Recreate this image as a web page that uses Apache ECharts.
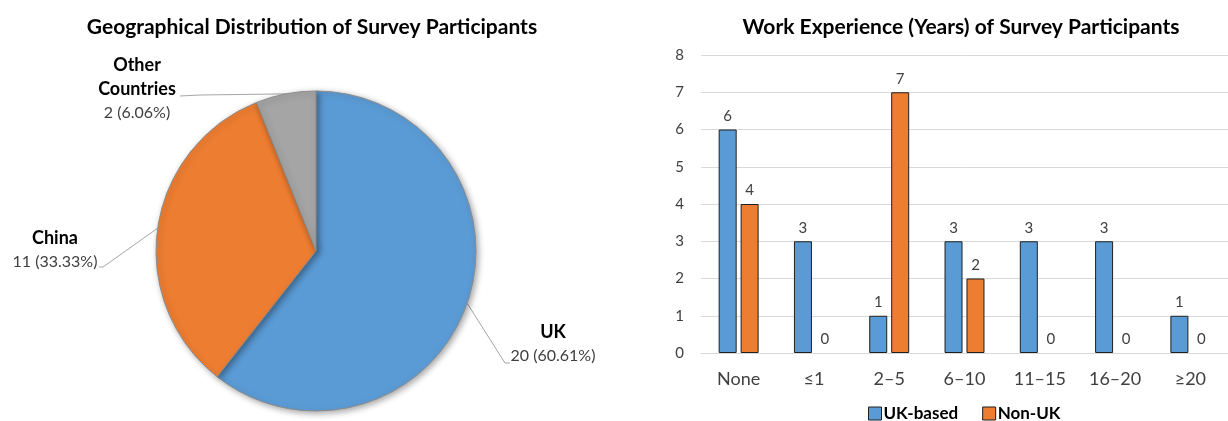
<!DOCTYPE html>
<html>
<head>
<meta charset="utf-8">
<script src="https://cdn.jsdelivr.net/npm/echarts@6/dist/echarts.min.js"></script>
<style>
html,body{margin:0;padding:0;background:#fff;}
#main{width:1228px;height:421px;}
</style>
</head>
<body>
<div id="main"></div>
<script>
// ---- Data ----
const pieNames = ['UK', 'China', 'Other\nCountries'];
const pieValues = [20, 11, 2];
const pieColors = ['#5B9BD5', '#ED7D31', '#A5A5A5'];

const expCategories = ['None', '≤1', '2–5', '6–10', '11–15', '16–20', '≥20'];
const ukBased = [6, 3, 1, 3, 3, 3, 1];
const nonUK = [4, 0, 7, 2, 0, 0, 0];
const yTicks = [0, 1, 2, 3, 4, 5, 6, 7, 8];

const FONT = 'Lato, "Open Sans", sans-serif';
const TXT = '#404040';

// label placement (layout only)
const pieLabelPlaces = [
  { x: 553, y: 344, elbow: [505, 363], end: [510, 363] },
  { x: 55, y: 250, elbow: [103, 267], end: [99, 267] },
  { x: 137, y: 89, elbow: [200, 95], end: [180, 96] }
];

const barItems = (vals, color) => vals.map(v => ({
  value: v,
  itemStyle: v === 0
    ? { color: 'rgba(0,0,0,0)', borderWidth: 0 }
    : { color: color, borderColor: '#1f1f1f', borderWidth: 1 }
}));

const chart = echarts.init(document.getElementById('main'), null, { renderer: 'canvas' });

const option = {
  backgroundColor: '#fff',
  textStyle: { fontFamily: FONT },
  title: [
    {
      text: 'Geographical Distribution of Survey Participants',
      left: 307, top: 12, textAlign: 'center',
      textStyle: { fontFamily: FONT, fontWeight: 'bold', fontSize: 21, color: '#000' }
    },
    {
      text: 'Work Experience (Years) of Survey Participants',
      left: 956, top: 12, textAlign: 'center',
      textStyle: { fontFamily: FONT, fontWeight: 'bold', fontSize: 21, color: '#000' }
    }
  ],
  legend: {
    data: ['UK-based', 'Non-UK'],
    left: 863, top: 400,
    icon: 'rect',
    itemWidth: 13, itemHeight: 13, itemGap: 24,
    itemStyle: { borderColor: '#1f1f1f', borderWidth: 1 },
    textStyle: { fontFamily: FONT, fontWeight: 'bold', fontSize: 17, color: '#000', padding: [0, 0, 0, -3] }
  },
  grid: { left: 701, right: -5, top: 55, bottom: 68, containLabel: false },
  xAxis: {
    type: 'category',
    data: expCategories,
    axisLine: { show: true, lineStyle: { color: '#d9d9d9', width: 1 } },
    axisTick: { show: false },
    axisLabel: { fontFamily: FONT, fontSize: 18, color: TXT, margin: 17 }
  },
  yAxis: {
    type: 'value',
    min: yTicks[0], max: yTicks[yTicks.length - 1], interval: 1,
    axisLine: { show: false },
    axisTick: { show: false },
    axisLabel: { fontFamily: FONT, fontSize: 15, color: TXT, margin: 17 },
    splitLine: { lineStyle: { color: '#d9d9d9', width: 1 } }
  },
  series: [
    {
      type: 'pie',
      center: [316, 251],
      radius: 160,
      startAngle: 90,
      clockwise: true,
      silent: true,
      data: pieNames.map((n, i) => ({ name: n, value: pieValues[i], itemStyle: { color: pieColors[i] } })),
      itemStyle: {
        borderColor: '#8c8c8c', borderWidth: 1,
        shadowBlur: 6, shadowColor: 'rgba(0,0,0,0.35)', shadowOffsetX: 2, shadowOffsetY: 2
      },
      label: {
        show: true,
        position: 'outside',
        formatter: p => '{n|' + p.name + '}\n{v|' + p.value + ' (' + p.percent.toFixed(2) + '%)}',
        rich: {
          n: { fontFamily: FONT, fontWeight: 'bold', fontSize: 18, color: '#000', lineHeight: 23.5, align: 'center' },
          v: { fontFamily: FONT, fontSize: 16, color: TXT, lineHeight: 23.5, align: 'center' }
        }
      },
      labelLine: { show: true, lineStyle: { color: '#a6a6a6', width: 1 } },
      labelLayout: function (params) {
        const pl = pieLabelPlaces[params.dataIndex];
        const a = params.labelLinePoints ? params.labelLinePoints[0] : pl.elbow;
        return {
          x: pl.x, y: pl.y, align: 'center', verticalAlign: 'middle',
          labelLinePoints: [a, pl.elbow, pl.end]
        };
      }
    },
    {
      name: 'UK-based',
      type: 'bar',
      data: barItems(ukBased, '#5B9BD5'),
      barWidth: 18,
      barGap: '22%',
      itemStyle: { color: '#5B9BD5', borderColor: '#1f1f1f', borderWidth: 1 },
      label: { show: true, position: 'top', distance: 6, fontFamily: FONT, fontSize: 15, color: TXT }
    },
    {
      name: 'Non-UK',
      type: 'bar',
      data: barItems(nonUK, '#ED7D31'),
      barWidth: 18,
      barGap: '22%',
      itemStyle: { color: '#ED7D31', borderColor: '#1f1f1f', borderWidth: 1 },
      label: { show: true, position: 'top', distance: 6, fontFamily: FONT, fontSize: 15, color: TXT }
    }
  ]
};
chart.setOption(option);
</script>
</body>
</html>
